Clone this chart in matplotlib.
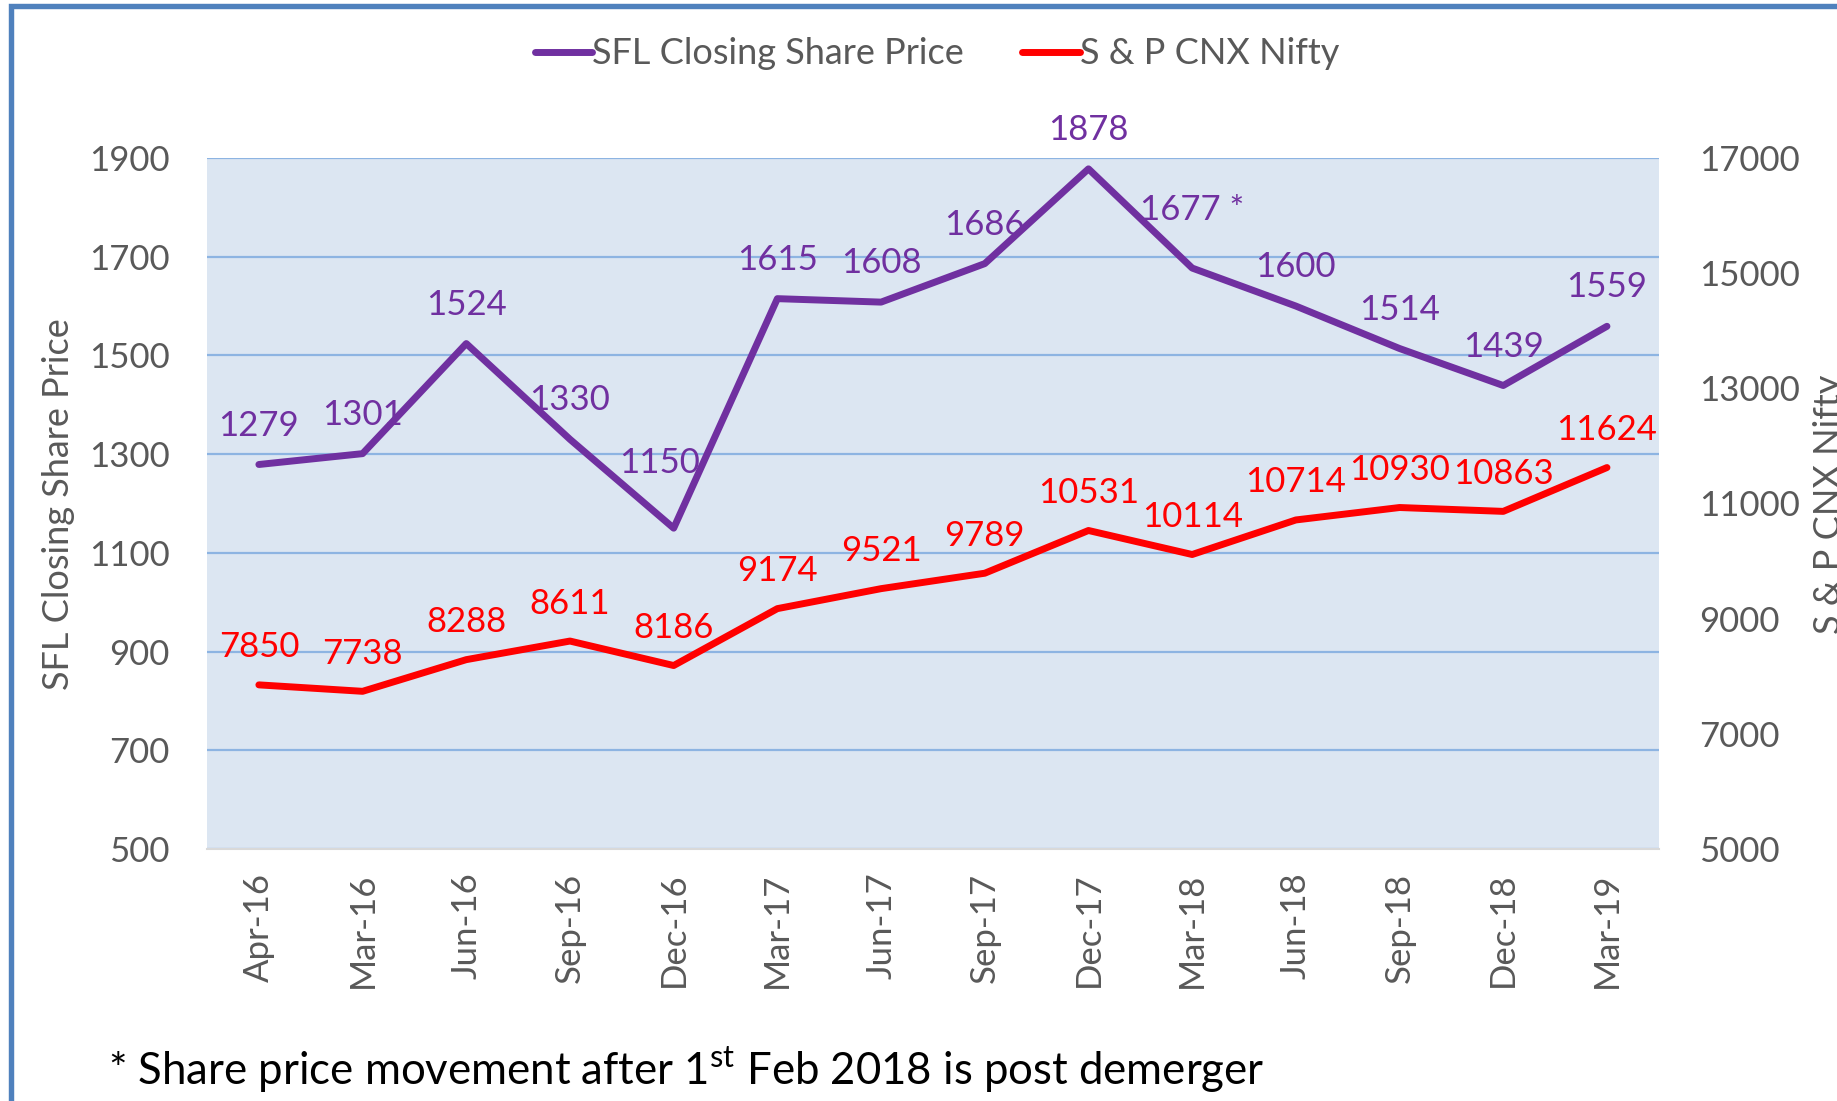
import numpy as np
import matplotlib.pyplot as plt
from matplotlib.patches import Rectangle

plt.rcParams['font.family'] = ['Lato', 'DejaVu Sans']
plt.rcParams['mathtext.fontset'] = 'custom'
plt.rcParams['mathtext.rm'] = 'Lato'

# data
quarters = ['Apr-16', 'Mar-16', 'Jun-16', 'Sep-16', 'Dec-16', 'Mar-17', 'Jun-17',
            'Sep-17', 'Dec-17', 'Mar-18', 'Jun-18', 'Sep-18', 'Dec-18', 'Mar-19']
sfl_price = [1279, 1301, 1524, 1330, 1150, 1615, 1608, 1686, 1878, 1677, 1600, 1514, 1439, 1559]
nifty = [7850, 7738, 8288, 8611, 8186, 9174, 9521, 9789, 10531, 10114, 10714, 10930, 10863, 11624]

purple = '#7030A0'
red = '#FF0000'
grey = '#595959'

fig = plt.figure(figsize=(18.37, 11.01), dpi=100)
ax = fig.add_axes([0.1127, 0.2289, 0.7903, 0.6276])
ax2 = ax.twinx()

x = np.arange(len(quarters))

ax.set_facecolor('#DCE6F2')
ax.set_xlim(-0.5, len(quarters) - 0.5)
ax.set_ylim(500, 1900)
ax.set_yticks(np.arange(500, 1901, 200))
ax.grid(axis='y', color='#8DB4E2', lw=1.6)
ax.set_axisbelow(True)
for s in ['left', 'right', 'top']:
    ax.spines[s].set_visible(False)
    ax2.spines[s].set_visible(False)
ax.spines['bottom'].set_color('#D9D9D9')
ax.spines['bottom'].set_linewidth(1.5)
ax2.spines['bottom'].set_visible(False)

ax2.set_ylim(5000, 17000)
ax2.set_yticks(np.arange(5000, 17001, 2000))

ax.set_xticks(x)
ax.set_xticklabels(quarters, rotation=90)
ax.tick_params(axis='x', length=0, pad=17, labelsize=25, labelcolor=grey)
ax.tick_params(axis='y', length=0, pad=27, labelsize=25, labelcolor=grey)
ax2.tick_params(axis='y', length=0, pad=29, labelsize=25, labelcolor=grey)

l1, = ax.plot(x, sfl_price, color=purple, lw=5, solid_capstyle='round',
              label='SFL Closing Share Price', zorder=3)
l2, = ax2.plot(x, nifty, color=red, lw=5, solid_capstyle='round',
               label='S & P CNX Nifty', zorder=3)

# data labels above the points, a few moved by hand as in the original
for i, v in enumerate(sfl_price):
    txt = str(v)
    dx, dy = 0, 28
    if i == 4:
        dx, dy = -10, 47
    if i == 9:
        txt = '1677 *'
        dy = 42
    ax.annotate(txt, (x[i], v), xytext=(dx, dy), textcoords='offset points',
                ha='center', va='center', fontsize=25, color=purple, zorder=4)
for i, v in enumerate(nifty):
    ax2.annotate(str(v), (x[i], v), xytext=(0, 27), textcoords='offset points',
                 ha='center', va='center', fontsize=25, color=red, zorder=4)

# axis titles (the right one is cut by the image edge, as in the original)
fig.text(59 / 1837, 1 - 504 / 1101, 'SFL Closing Share Price', rotation=90,
         fontsize=26, color=grey, ha='center', va='center')
fig.text(1830 / 1837, 1 - 504 / 1101, 'S & P CNX Nifty', rotation=90,
         fontsize=26, color=grey, ha='center', va='center')

fig.legend(handles=[l1, l2], loc='center', bbox_to_anchor=(0.510, 0.951), ncol=2,
           frameon=False, fontsize=26, labelcolor=grey, handlelength=1.6,
           handletextpad=0.0, columnspacing=1.6)

fig.text(108 / 1837, 1 - 1070 / 1101,
         '* Share price movement after 1$^{\\mathrm{st}}$ Feb 2018 is post demerger',
         fontsize=31.5, color='black', va='center', ha='left')

# blue chart frame, cut at right and bottom
fig.patches.append(Rectangle((10.7 / 1837, -0.1), 1.2, 1.0945, transform=fig.transFigure,
                             fill=False, edgecolor='#4F81BD', lw=3.9))

fig.savefig('out.png', dpi=100)
